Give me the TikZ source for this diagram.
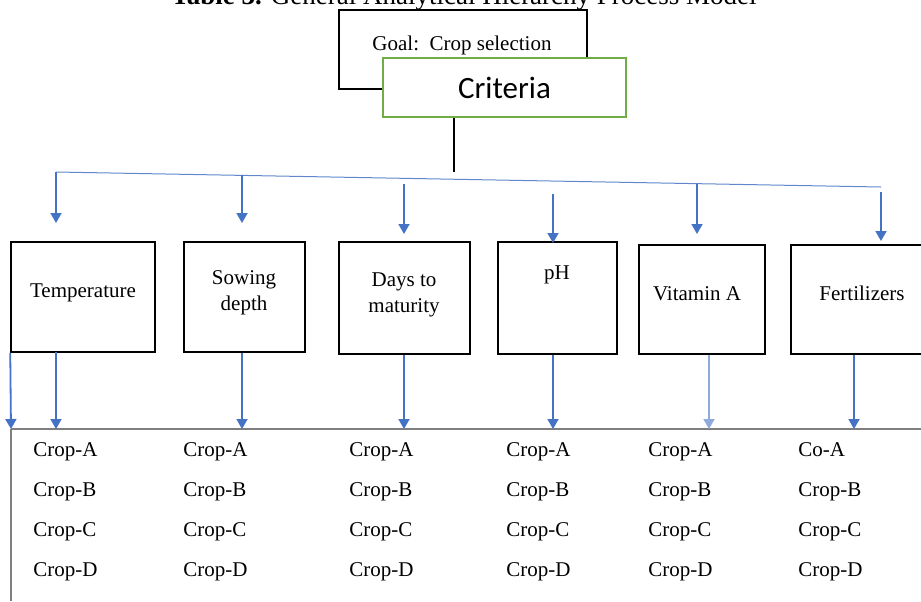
\documentclass[tikz,border=0pt]{standalone}
\usepackage{fontspec}
\setmainfont{Liberation Serif}
\newfontfamily\calibri{Carlito}
\usepackage{xcolor}
\usetikzlibrary{arrows.meta}

\definecolor{ahpblue}{HTML}{4472C4}
\definecolor{ahplight}{HTML}{8FAADC}
\definecolor{ahpgreen}{HTML}{70AD47}
\definecolor{ahpgray}{HTML}{7F7F7F}

\tikzset{
  critbox/.style={draw, line width=0.75pt, inner sep=0pt},
  lbl/.style={font=\fontsize{10.5}{13}\selectfont, align=center, inner sep=0pt},
  croplist/.style={font=\fontsize{10.5}{20}\selectfont, align=left, anchor=north west, inner sep=0pt},
  arr/.style={ahpblue, line width=0.9pt, -{Triangle[length=5pt, width=5.5pt]}}
}

\begin{document}
\begin{tikzpicture}[x=0.5pt, y=-0.5pt]
  \useasboundingbox (0,0) rectangle (921,601);
  \clip (0,0) rectangle (921,601);

  % Caption (cut at the top edge)
  \node[font=\fontsize{13.5}{16}\selectfont, anchor=base, inner sep=0pt] (title) at (464,4.5)
    {\textbf{Table 3.} General Analytical Hierarchy Process Model};

  % Goal and criteria
  \node[draw, line width=0.6pt, minimum width=124pt, minimum height=39.5pt, inner sep=0pt] (goal) at (463,49.5) {};
  \node[lbl] (goaltxt) at (462,45) {Goal:\ \ Crop selection};
  \node[draw=ahpgreen, fill=white, line width=1pt, minimum width=121.5pt, minimum height=29.5pt,
        font=\calibri\fontsize{15.5}{18}\selectfont] (crit) at (504.5,87.5) {Criteria};

  % Stem and bus line
  \coordinate (stem) at (454,172);
  \draw[line width=0.6pt] (crit.south -| stem) -- (stem);
  \coordinate (busL) at (56,172);
  \coordinate (busR) at (881,187);
  \draw[ahpblue!85, line width=0.5pt] (busL) -- (busR);

  % Criteria boxes
  \node[critbox, minimum width=72pt, minimum height=55pt] (temp) at (83,297) {};
  \node[critbox, minimum width=60.5pt, minimum height=55pt] (sow) at (244.5,297) {};
  \node[critbox, minimum width=65.5pt, minimum height=56pt] (days) at (404.5,298) {};
  \node[critbox, minimum width=59.5pt, minimum height=56pt] (ph) at (557.5,298) {};
  \node[critbox, minimum width=63pt, minimum height=54.5pt] (vita) at (702,299.5) {};
  \node[critbox, minimum width=74.5pt, minimum height=54.5pt] (fert) at (865.5,299.5) {};

  \node[lbl] (temptxt) at (83,293) {Temperature};
  \node[lbl] (sowtxt) at (244,293) {Sowing\\depth};
  \node[lbl] (daystxt) at (404,295) {Days to\\maturity};
  \node[lbl] (phtxt) at (557,275) {pH};
  \node[lbl] (vitatxt) at (697,294) {Vitamin A};
  \node[lbl] (ferttxt) at (862,293.5) {Fertilizers};

  % Arrows from the bus line
  \draw[arr] (busL) -- (56,223);
  \draw[arr] (242,175.4) -- (242,223);
  \draw[arr] (404,184) -- (404,234);
  \draw[arr] (553,194) -- (553,243);
  \draw[arr] (697,183.7) -- (697,234);
  \draw[arr] (881,192) -- (881,241);

  % Result row line
  \coordinate (rowL) at (11,429);
  \coordinate (rowR) at (921,429);
  \draw[ahpgray, line width=0.75pt] (rowL) -- (rowR);
  \draw[ahpgray, line width=0.75pt] (rowL) -- (11,601);

  % Arrows down to the alternatives
  \draw[arr] (temp.south west) -- (rowL);
  \draw[arr] (56,352) -- (56,429);
  \draw[arr] (sow.south -| 242,0) -- (242,429);
  \draw[arr] (days.south -| 404,0) -- (404,429);
  \draw[arr] (ph.south -| 553,0) -- (553,429);
  \draw[arr, ahplight] (vita.south -| 709,0) -- (709,429);
  \draw[arr] (fert.south -| 854,0) -- (854,429);

  % Alternatives
  \node[croplist] (c1) at (33,442.5) {Crop-A\\Crop-B\\Crop-C\\Crop-D};
  \node[croplist] (c2) at (183,442.5) {Crop-A\\Crop-B\\Crop-C\\Crop-D};
  \node[croplist] (c3) at (349,442.5) {Crop-A\\Crop-B\\Crop-C\\Crop-D};
  \node[croplist] (c4) at (506,442.5) {Crop-A\\Crop-B\\Crop-C\\Crop-D};
  \node[croplist] (c5) at (648,442.5) {Crop-A\\Crop-B\\Crop-C\\Crop-D};
  \node[croplist] (c6) at (798,442.5) {Co-A\\Crop-B\\Crop-C\\Crop-D};
\end{tikzpicture}
\end{document}
